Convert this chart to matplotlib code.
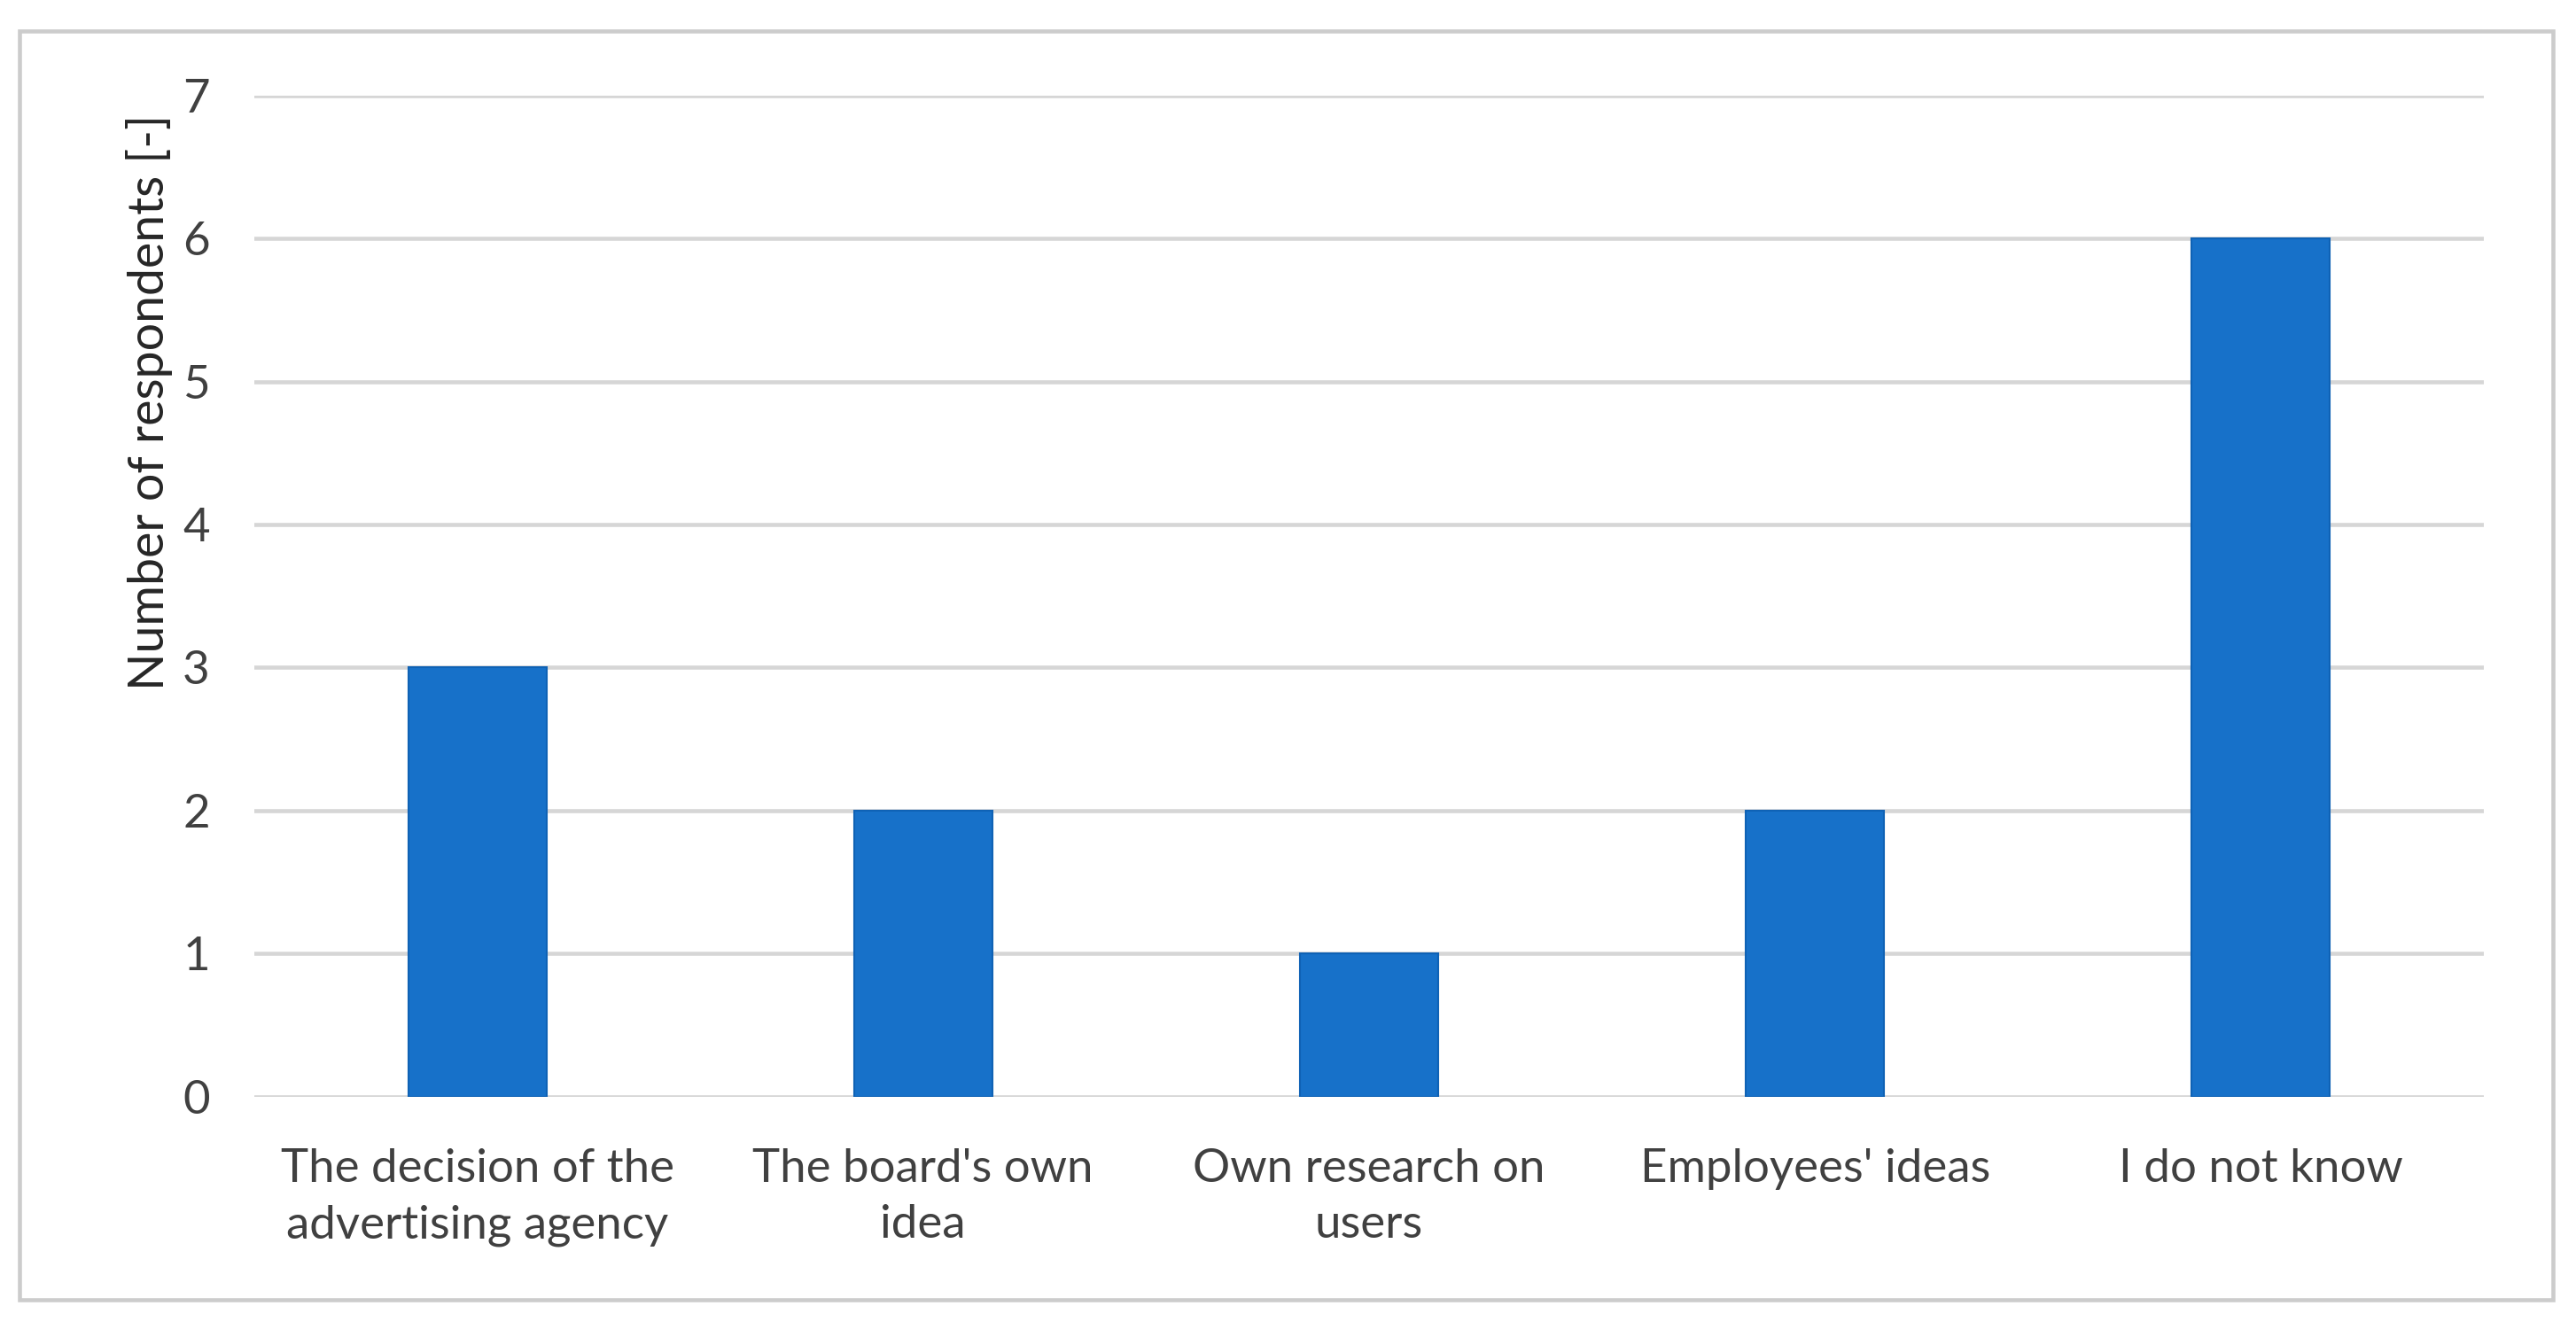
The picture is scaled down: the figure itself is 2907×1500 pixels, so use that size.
"""Bar chart: source of advertising ideas, number of respondents."""

import matplotlib.pyplot as plt
from matplotlib.patches import Rectangle

categories = [
    "The decision of the\nadvertising agency",
    "The board's own\nidea",
    "Own research on\nusers",
    "Employees' ideas",
    "I do not know",
]
respondents = [3, 2, 1, 2, 6]
y_ticks = [0, 1, 2, 3, 4, 5, 6, 7]
y_label = "Number of respondents [-]"

BAR_COLOR = "#1771c9"
GRID_COLOR = "#d6d6d6"
TEXT_COLOR = "#404040"

plt.rcParams["font.family"] = ["Lato", "DejaVu Sans"]

fig = plt.figure(figsize=(29.07, 15.0), dpi=100)
ax = fig.add_axes([0.0987, 0.1747, 0.8655, 0.7536])

x = range(len(categories))
ax.bar(x, respondents, width=0.31, color=BAR_COLOR, edgecolor="#0f62b5",
       linewidth=1.5, zorder=3)

ax.set_xlim(-0.5, len(categories) - 0.5)
ax.set_ylim(0, 7)
ax.set_yticks(y_ticks)
ax.set_xticks(list(x))
ax.set_xticklabels(categories, fontsize=38, color=TEXT_COLOR, linespacing=1.42)
ax.tick_params(axis="y", labelsize=38, labelcolor=TEXT_COLOR, length=0, pad=36)
ax.tick_params(axis="x", length=0, pad=42)

ax.yaxis.grid(True, color=GRID_COLOR, linewidth=3.3, zorder=0)
for side in ("top", "right", "left", "bottom"):
    ax.spines[side].set_visible(False)

fig.text(169 / 2907, 1 - 454 / 1500, y_label, rotation=90, ha="center",
         va="center", fontsize=40, color="#262626")

# outer chart frame
fig.patches.append(Rectangle((22 / 2907, 1 - 1467 / 1500),
                             (2881 - 22) / 2907, (1467 - 35) / 1500,
                             transform=fig.transFigure, fill=False,
                             edgecolor="#cccccc", linewidth=3.3))

fig.savefig("out.png", dpi=100, facecolor="white")
